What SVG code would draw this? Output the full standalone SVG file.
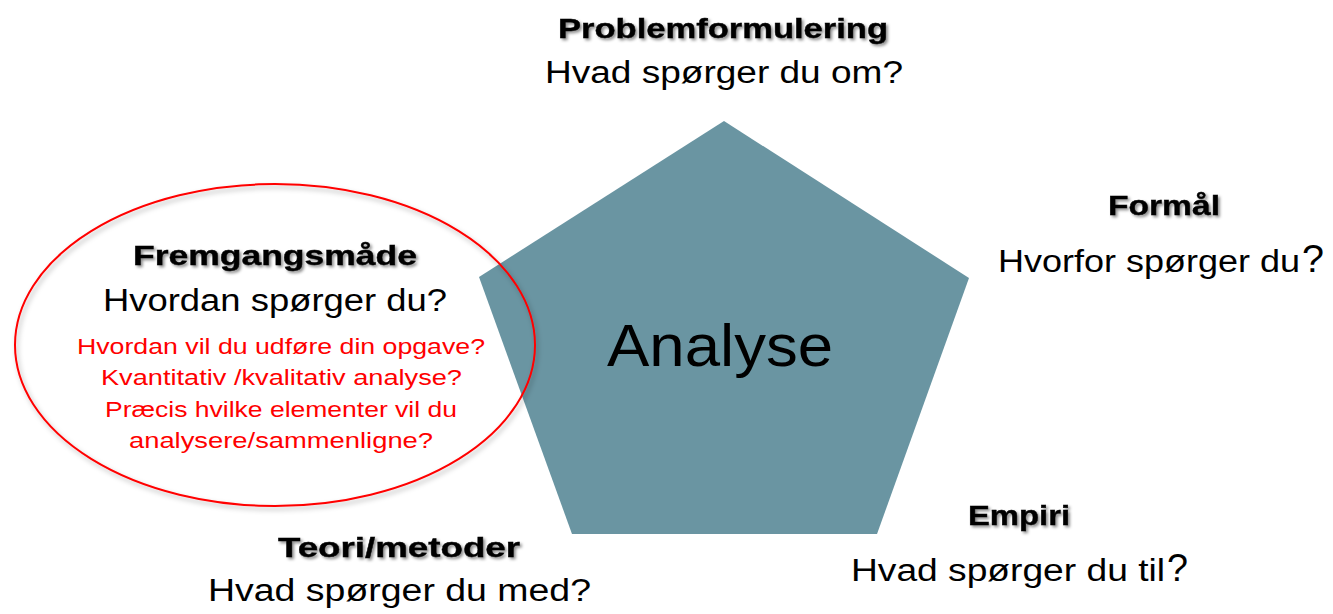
<svg xmlns="http://www.w3.org/2000/svg" width="1333" height="614" viewBox="0 0 1333 614">
  <defs>
    <filter id="tshadow" x="-10%" y="-30%" width="120%" height="160%">
      <feDropShadow dx="2" dy="2" stdDeviation="1.5" flood-color="#000" flood-opacity="0.45"/>
    </filter>
    <filter id="eshadow" x="-10%" y="-10%" width="120%" height="120%">
      <feDropShadow dx="2" dy="3" stdDeviation="2.5" flood-color="#000" flood-opacity="0.3"/>
    </filter>
  </defs>
  <style>
    text { font-family: "Liberation Sans", Arial, sans-serif; }
    .h { font-weight: bold; font-size: 28px; fill: #000; stroke: #000; stroke-width: 0.4px; filter: url(#tshadow); }
    .q { font-size: 31px; fill: #000; }
    .qm { font-size: 38px; fill: #000; }
    .r { font-size: 22px; fill: #ff0000; }
    .big { font-size: 60px; fill: #000; }
  </style>
  <rect width="1333" height="614" fill="#ffffff"/>

  <g id="analyse">
    <polygon points="724,121 969,278 877,534 572,534 479,277" fill="#6A95A2"/>
    <text class="big" x="607" y="366" textLength="226" lengthAdjust="spacingAndGlyphs">Analyse</text>
  </g>

  <g id="problemformulering">
    <text class="h" x="558" y="38" textLength="330" lengthAdjust="spacingAndGlyphs">Problemformulering</text>
    <text class="q" x="545" y="83" textLength="358" lengthAdjust="spacingAndGlyphs">Hvad spørger du om?</text>
  </g>

  <g id="formaal">
    <text class="h" x="1108" y="215" textLength="112" lengthAdjust="spacingAndGlyphs">Formål</text>
    <text class="q" x="998" y="272" textLength="302" lengthAdjust="spacingAndGlyphs">Hvorfor spørger du</text>
    <text class="qm" x="1302" y="272" textLength="22" lengthAdjust="spacingAndGlyphs">?</text>
  </g>

  <g id="empiri">
    <text class="h" x="968" y="525" textLength="102" lengthAdjust="spacingAndGlyphs">Empiri</text>
    <text class="q" x="851" y="581" textLength="314" lengthAdjust="spacingAndGlyphs">Hvad spørger du til</text>
    <text class="qm" x="1167" y="581" textLength="21" lengthAdjust="spacingAndGlyphs">?</text>
  </g>

  <g id="teori">
    <text class="h" x="278" y="557" textLength="242" lengthAdjust="spacingAndGlyphs">Teori/metoder</text>
    <text class="q" x="208" y="601" textLength="383" lengthAdjust="spacingAndGlyphs">Hvad spørger du med?</text>
  </g>

  <g id="fremgangsmaade">
    <ellipse cx="275" cy="345" rx="260" ry="161" fill="none" stroke="#ff0000" stroke-width="2" filter="url(#eshadow)"/>
    <text class="h" x="133" y="265" textLength="284" lengthAdjust="spacingAndGlyphs">Fremgangsmåde</text>
    <text class="q" x="103" y="311" textLength="344" lengthAdjust="spacingAndGlyphs">Hvordan spørger du?</text>
    <text class="r" x="77" y="354" textLength="408" lengthAdjust="spacingAndGlyphs">Hvordan vil du udføre din opgave?</text>
    <text class="r" x="101" y="385" textLength="361" lengthAdjust="spacingAndGlyphs">Kvantitativ /kvalitativ analyse?</text>
    <text class="r" x="105" y="417" textLength="352" lengthAdjust="spacingAndGlyphs">Præcis hvilke elementer vil du</text>
    <text class="r" x="129" y="448" textLength="304" lengthAdjust="spacingAndGlyphs">analysere/sammenligne?</text>
  </g>

  <g id="connectors"></g>
</svg>
